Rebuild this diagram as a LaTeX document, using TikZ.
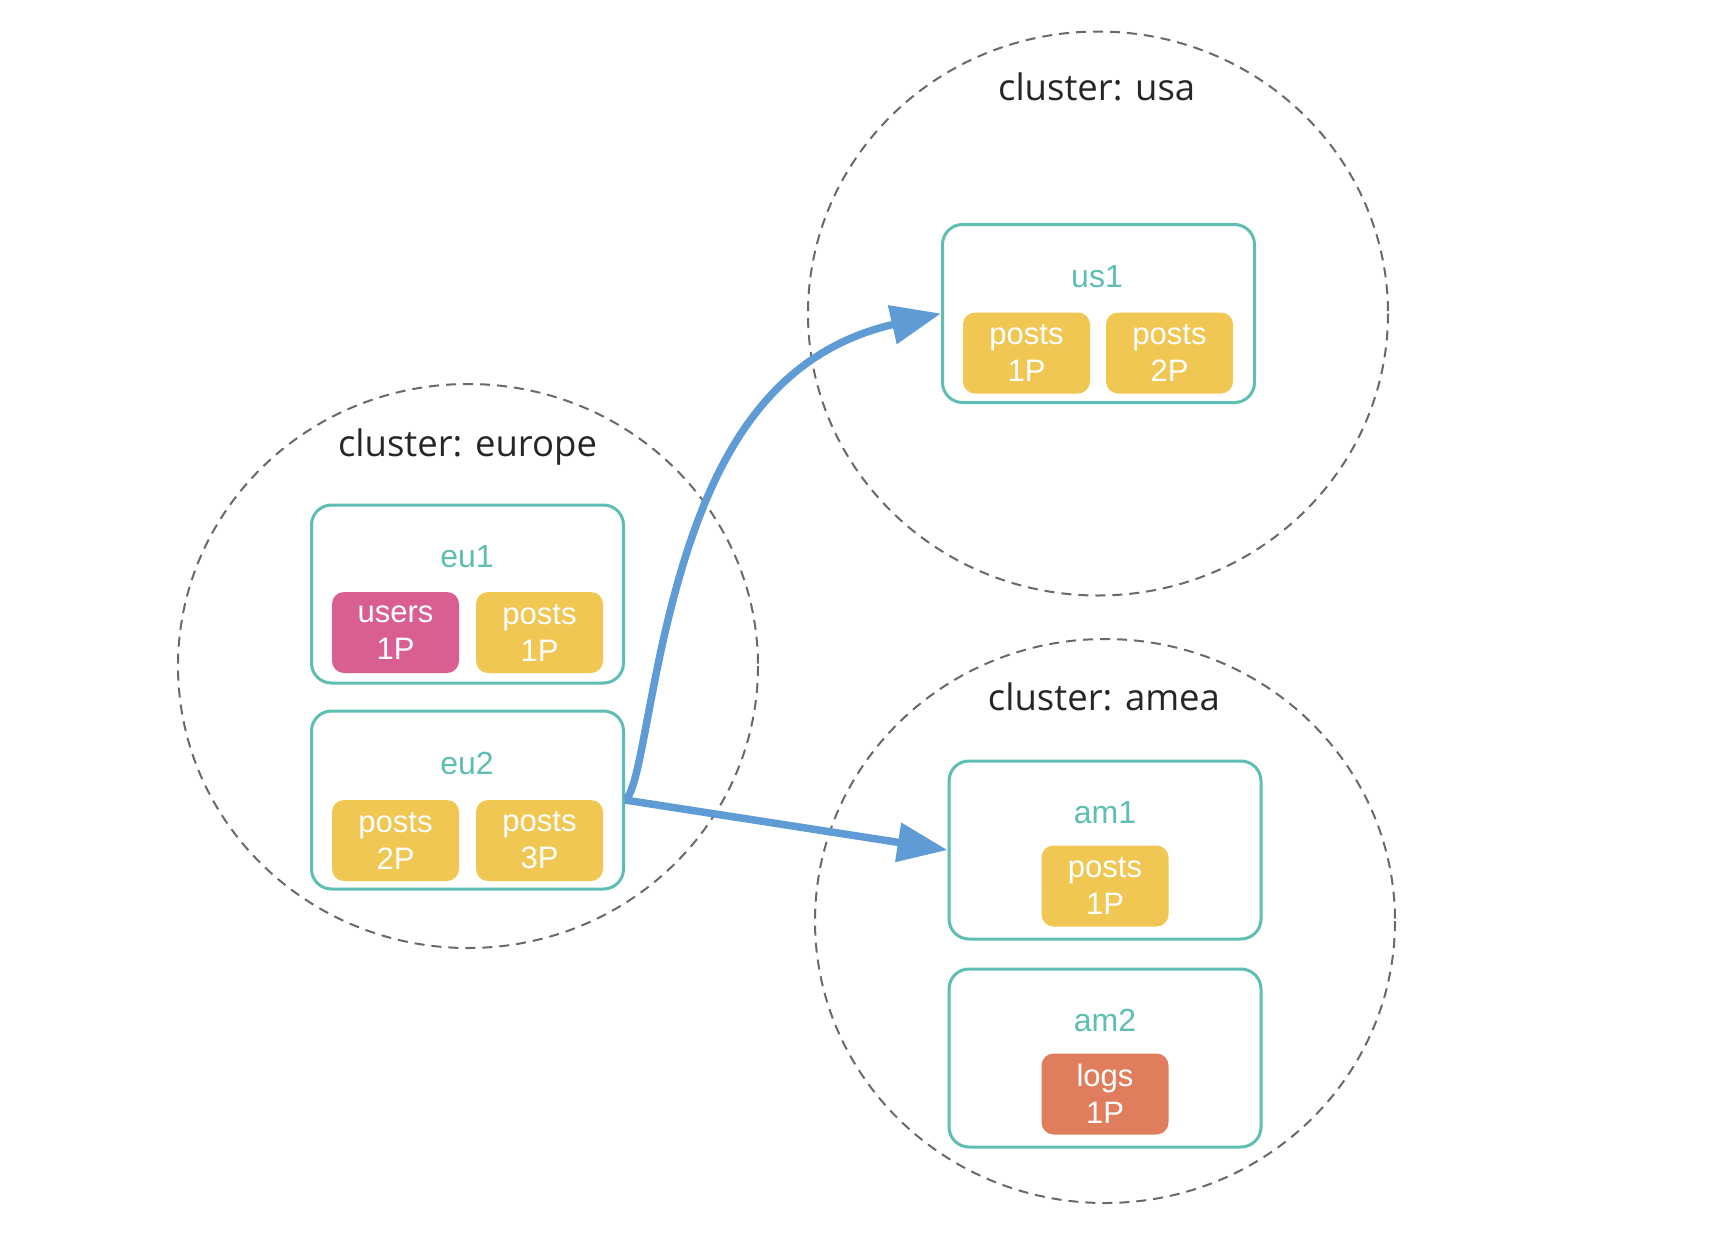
\documentclass[tikz,border=0pt]{standalone}
\usepackage{fontspec}
\setmainfont{Liberation Sans}
\newfontfamily\clusterfont{Open Sans}
\usetikzlibrary{arrows.meta,calc}
\definecolor{teal1}{RGB}{94,190,178}
\definecolor{yel}{RGB}{240,199,82}
\definecolor{pink1}{RGB}{217,95,147}
\definecolor{orng}{RGB}{224,125,93}
\definecolor{blu}{RGB}{95,155,213}
\definecolor{dashgray}{RGB}{105,105,105}
\tikzset{
  cluster/.style={draw=dashgray, line width=2pt, dash pattern=on 10pt off 7pt},
  clusterlabel/.style={anchor=base, inner sep=0pt, font=\clusterfont\fontsize{36.5}{42}\selectfont, text=black!85},
  server/.style={draw=teal1, line width=3pt, rounded corners=20pt, minimum width=312pt, minimum height=178pt, inner sep=0pt},
  serverlabel/.style={inner sep=0pt, text=teal1, font=\fontsize{32}{36}\selectfont},
  shard/.style={rounded corners=12pt, minimum width=127pt, minimum height=81pt, inner sep=0pt, text=white, align=center, font=\fontsize{31}{37}\selectfont},
  conn/.style={draw=blu, line width=7.5pt, -{Triangle[length=50pt,width=38pt]}},
}
\begin{document}
\begin{tikzpicture}[x=1pt,y=-1pt]
\useasboundingbox (0,0) rectangle (1734,1250);
% clusters
\draw[cluster] (468,666) ellipse [x radius=290, y radius=282];
\draw[cluster] (1098,313.5) ellipse [x radius=290, y radius=282];
\draw[cluster] (1105,921) ellipse [x radius=290, y radius=282];
\node[clusterlabel] (leu) at (467.5,456) {cluster: europe};
\node[clusterlabel] (lus) at (1096.7,100) {cluster: usa};
\node[clusterlabel] (lam) at (1104,710) {cluster: amea};
% servers
\node[server] (eu1) at (467.5,594) {};
\node[server] (eu2) at (467.5,800) {};
\node[server] (us1) at (1098.5,313.5) {};
\node[server] (am1) at (1105,850) {};
\node[server] (am2) at (1105,1058) {};
\node[serverlabel] (eu1l) at (467,557) {eu1};
\node[serverlabel] (eu2l) at (467,763) {eu2};
\node[serverlabel] (us1l) at (1097,277) {us1};
\node[serverlabel] (am1l) at (1105,813) {am1};
\node[serverlabel] (am2l) at (1105,1020) {am2};
% shards
\node[shard, fill=pink1] (eu1a) at (395.5,632.5) {users\\1P};
\node[shard, fill=yel] (eu1b) at (539.5,632.5) {posts\\1P};
\node[shard, fill=yel] (eu2a) at (395.5,840.5) {posts\\2P};
\node[shard, fill=yel] (eu2b) at (539.5,840.5) {posts\\3P};
\node[shard, fill=yel] (us1a) at (1026.5,353) {posts\\1P};
\node[shard, fill=yel] (us1b) at (1169.5,353) {posts\\2P};
\node[shard, fill=yel] (am1a) at (1105,886) {posts\\1P};
\node[shard, fill=orng] (am2a) at (1105,1094) {logs\\1P};
% connectors
\draw[conn] (eu2.east) .. controls (638,792) and (646,712) .. (667,624)
  .. controls (703,474) and (760,355) .. (us1.west);
\draw[conn] (eu2.east) -- (am1.west);
\end{tikzpicture}
\end{document}
